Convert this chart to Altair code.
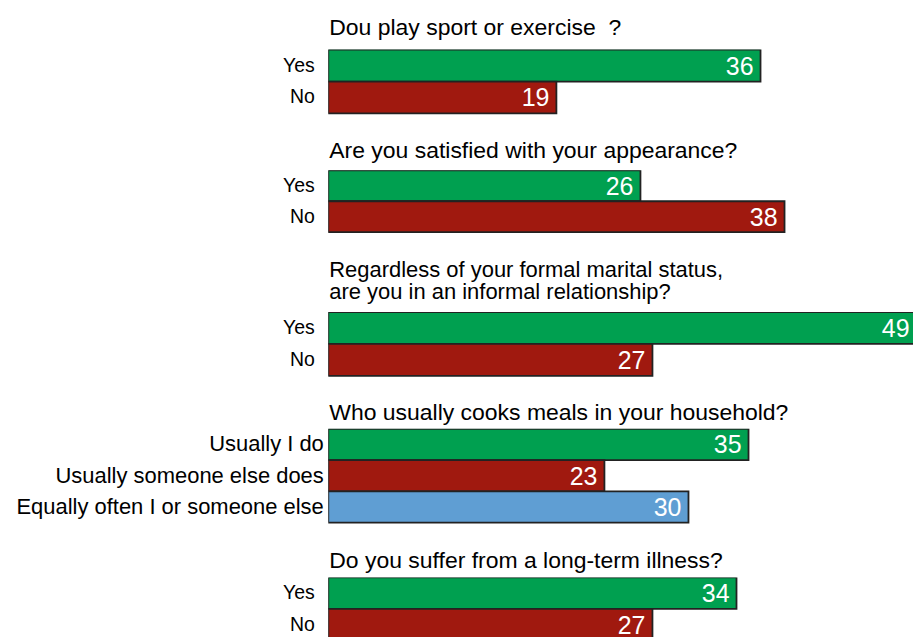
import altair as alt
import pandas as pd

questions = [
    "Dou play sport or exercise \u00a0?",
    "Are you satisfied with your appearance?",
    ["Regardless of your formal marital status,", "are you in an informal relationship?"],
    "Who usually cooks meals in your household?",
    "Do you suffer from a long-term illness?",
]
answers = [
    ["Yes", "No"],
    ["Yes", "No"],
    ["Yes", "No"],
    ["Usually I do", "Usually someone else does", "Equally often I or someone else"],
    ["Yes", "No"],
]
values = [
    [36, 19],
    [26, 38],
    [49, 27],
    [35, 23, 30],
    [34, 27],
]
kinds = [
    ["pos", "neg"],
    ["pos", "neg"],
    ["pos", "neg"],
    ["pos", "neg", "neutral"],
    ["pos", "neg"],
]
kind_domain = ["pos", "neg", "neutral"]
kind_colors = ["#00A050", "#A0190F", "#5F9ED3"]

FONT = "Liberation Sans"

# layout per panel: band height, panel height, title offset/size, label size/padding
band_h = [64, 62, 64, 94, 63]
panel_h = [71, 69, 70, 102, 60]
title_off = [10, 7, 8, 4, 4]
title_size = [23, 23, 22, 23, 23]
label_size = [19.5, 19.5, 19.5, 22, 19.5]
label_pad = [14, 14, 14, 5, 14]

panels = []
for qi, q in enumerate(questions):
    df = pd.DataFrame({
        "answer": answers[qi],
        "value": values[qi],
        "kind": kinds[qi],
    })
    base = alt.Chart(df).encode(
        y=alt.Y(
            "answer:N",
            sort=answers[qi],
            scale=alt.Scale(paddingInner=0, paddingOuter=0, range=[0, band_h[qi]]),
            axis=alt.Axis(title=None, ticks=False, domain=False, labelPadding=label_pad[qi],
                          labelFontSize=label_size[qi], labelFont=FONT, labelColor="black",
                          labelLimit=0),
        ),
        x=alt.X("value:Q", scale=alt.Scale(domain=[0, 48.7], nice=False, zero=True), axis=None),
    )
    bars = base.mark_bar(stroke="#222222", strokeWidth=1.8, clip=True).encode(
        color=alt.Color("kind:N", scale=alt.Scale(domain=kind_domain, range=kind_colors), legend=None)
    )
    labels = base.mark_text(align="right", baseline="middle", dx=-7, dy=1, fontSize=25,
                            font=FONT, color="white", clip=True).encode(text="value:Q")
    panel = (bars + labels).properties(
        width=586,
        height=panel_h[qi],
        title=alt.TitleParams(text=q, anchor="start", frame="group", fontSize=title_size[qi],
                              font=FONT, fontWeight="normal", color="black",
                              offset=title_off[qi], lineHeight=22, dx=1),
    )
    panels.append(panel)

chart = alt.vconcat(*panels, spacing=20).properties(
    padding={"left": 15, "top": 16, "right": 0, "bottom": 0}
).configure(font=FONT).configure_view(strokeWidth=0, stroke="transparent")

chart.save("out.html", embed_options={"renderer": "svg", "actions": False})
